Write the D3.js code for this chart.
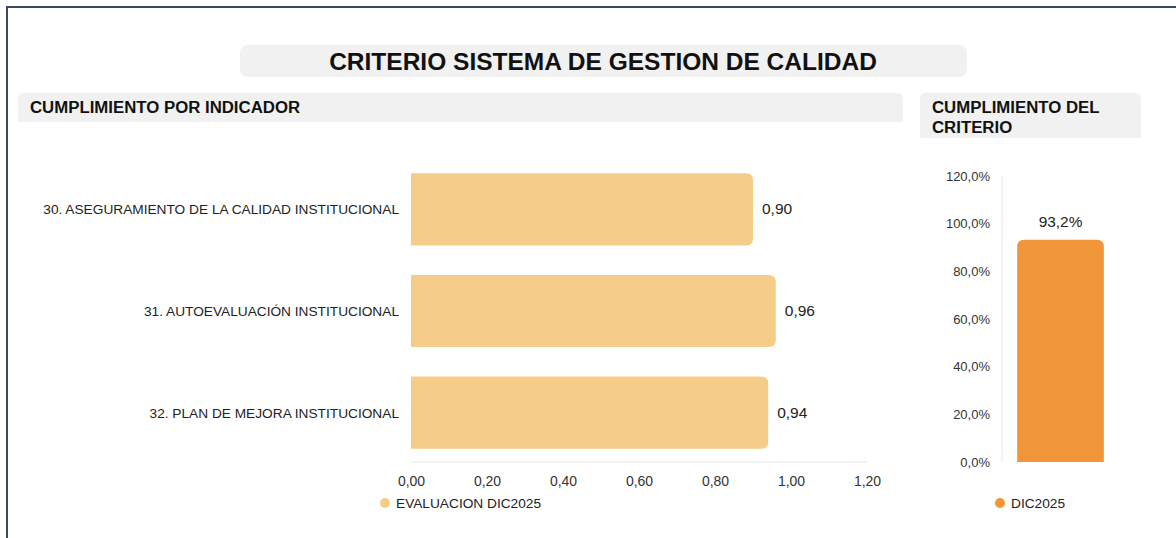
<!DOCTYPE html>
<html>
<head>
<meta charset="utf-8">
<script src="https://cdn.jsdelivr.net/npm/d3@7"></script>
<style>
  html, body { margin: 0; padding: 0; background: #fff; }
  svg { display: block; font-family: "Liberation Sans", Arial, sans-serif; }
</style>
</head>
<body>
<svg id="chart" width="1176" height="538"></svg>
<script>
// ── Data ──
const indicadores = [
  '30. ASEGURAMIENTO DE LA CALIDAD INSTITUCIONAL',
  '31. AUTOEVALUACIÓN INSTITUCIONAL',
  '32. PLAN DE MEJORA INSTITUCIONAL'
];
const evaluacion = [0.90, 0.96, 0.94];
const xTicks = [0, 0.2, 0.4, 0.6, 0.8, 1.0, 1.2];

const periodos = ['DIC2025'];
const cumplimiento = [0.932];
const yTicks = [0, 0.2, 0.4, 0.6, 0.8, 1.0, 1.2];

const svg = d3.select('#chart');
const comma = (f) => v => d3.format(f)(v).replace('.', ',');

// frame
svg.append('path').attr('d', 'M7,540 V7 H1180')
  .attr('fill', 'none').attr('stroke', '#3d4858').attr('stroke-width', 2);

// ── Headers ──
svg.append('rect').attr('x', 240).attr('y', 45).attr('width', 727).attr('height', 32)
  .attr('rx', 8).attr('fill', '#f1f1f1');
svg.append('text').attr('x', 603).attr('y', 70).attr('text-anchor', 'middle')
  .attr('font-size', '24.5px').attr('font-weight', '700').attr('fill', '#111')
  .text('CRITERIO SISTEMA DE GESTION DE CALIDAD');

function header(x, y, w, h, lines) {
  svg.append('path')
    .attr('d', `M${x},${y + h} V${y + 6} Q${x},${y} ${x + 6},${y} H${x + w - 6} Q${x + w},${y} ${x + w},${y + 6} V${y + h} Z`)
    .attr('fill', '#f1f1f1');
  lines.forEach((l, i) => {
    svg.append('text').attr('x', x + 12).attr('y', y + 20 + i * 20)
      .attr('font-size', '16.8px').attr('font-weight', '700').attr('fill', '#111').text(l);
  });
}
header(18, 93, 885, 29, ['CUMPLIMIENTO POR INDICADOR']);
header(920, 93, 221, 45, ['CUMPLIMIENTO DEL', 'CRITERIO']);

// ── Left chart: horizontal bars ──
const x = d3.scaleLinear().domain([0, 1.2]).range([411, 867]);
const y = d3.scaleBand().domain(indicadores).range([160, 462]).paddingInner(0.29).paddingOuter(0.13);

svg.append('line').attr('x1', x(0)).attr('x2', x(1.2)).attr('y1', 462).attr('y2', 462)
  .attr('stroke', '#e6e6e6').attr('stroke-width', 1);

const r = 7;
svg.append('g').selectAll('path').data(indicadores).enter().append('path')
  .attr('d', (d, i) => {
    const x0 = x(0), x1 = x(evaluacion[i]), y0 = y(d), y1 = y(d) + y.bandwidth();
    return `M${x0},${y0} H${x1 - r} Q${x1},${y0} ${x1},${y0 + r} V${y1 - r} Q${x1},${y1} ${x1 - r},${y1} H${x0} Z`;
  })
  .attr('fill', '#f6cd88');

svg.append('g').selectAll('text').data(indicadores).enter().append('text')
  .attr('x', 399).attr('y', d => y(d) + y.bandwidth() / 2 + 5)
  .attr('text-anchor', 'end').attr('font-size', '13.7px').attr('fill', '#222')
  .text(d => d);

svg.append('g').selectAll('text').data(indicadores).enter().append('text')
  .attr('x', (d, i) => x(evaluacion[i]) + 9).attr('y', d => y(d) + y.bandwidth() / 2 + 5)
  .attr('font-size', '15.5px').attr('fill', '#222')
  .text((d, i) => comma('.2f')(evaluacion[i]));

const xAxis = svg.append('g').attr('transform', 'translate(0,462)')
  .call(d3.axisBottom(x).tickValues(xTicks).tickSize(0).tickPadding(14).tickFormat(comma('.2f')));
xAxis.select('.domain').remove();
xAxis.selectAll('text').attr('font-size', '14px').attr('fill', '#333')
  .attr('font-family', '"Liberation Sans", Arial, sans-serif');

svg.append('circle').attr('cx', 385).attr('cy', 503).attr('r', 5).attr('fill', '#f6cd88');
svg.append('text').attr('x', 396).attr('y', 508).attr('font-size', '13.7px').attr('fill', '#222')
  .text('EVALUACION DIC2025');

// ── Right chart: vertical bar ──
const yr = d3.scaleLinear().domain([0, 1.2]).range([462, 176]);
const xr = d3.scaleBand().domain(periodos).range([1002, 1119]).paddingInner(0.2).paddingOuter(0.14);

svg.append('line').attr('x1', 1002).attr('x2', 1002).attr('y1', yr(1.2)).attr('y2', yr(0))
  .attr('stroke', '#e6e6e6').attr('stroke-width', 1);

const yAxis = svg.append('g').attr('transform', 'translate(990,0)')
  .call(d3.axisLeft(yr).tickValues(yTicks).tickSize(0).tickPadding(0)
    .tickFormat(v => d3.format('.1f')(v * 100).replace('.', ',') + '%'));
yAxis.select('.domain').remove();
yAxis.selectAll('text').attr('font-size', '13px').attr('fill', '#333')
  .attr('font-family', '"Liberation Sans", Arial, sans-serif');

svg.append('g').selectAll('path').data(periodos).enter().append('path')
  .attr('d', (d, i) => {
    const x0 = xr(d), x1 = xr(d) + xr.bandwidth(), y0 = yr(cumplimiento[i]), y1 = yr(0);
    return `M${x0},${y1} V${y0 + r} Q${x0},${y0} ${x0 + r},${y0} H${x1 - r} Q${x1},${y0} ${x1},${y0 + r} V${y1} Z`;
  })
  .attr('fill', '#f09638');

svg.append('g').selectAll('text').data(periodos).enter().append('text')
  .attr('x', d => xr(d) + xr.bandwidth() / 2).attr('y', (d, i) => yr(cumplimiento[i]) - 13)
  .attr('text-anchor', 'middle').attr('font-size', '15.4px').attr('fill', '#222')
  .text((d, i) => d3.format('.1f')(cumplimiento[i] * 100).replace('.', ',') + '%');

svg.append('circle').attr('cx', 1000).attr('cy', 503).attr('r', 5).attr('fill', '#f09638');
svg.append('text').attr('x', 1011).attr('y', 508).attr('font-size', '13.7px').attr('fill', '#222')
  .text('DIC2025');
</script>
</body>
</html>
